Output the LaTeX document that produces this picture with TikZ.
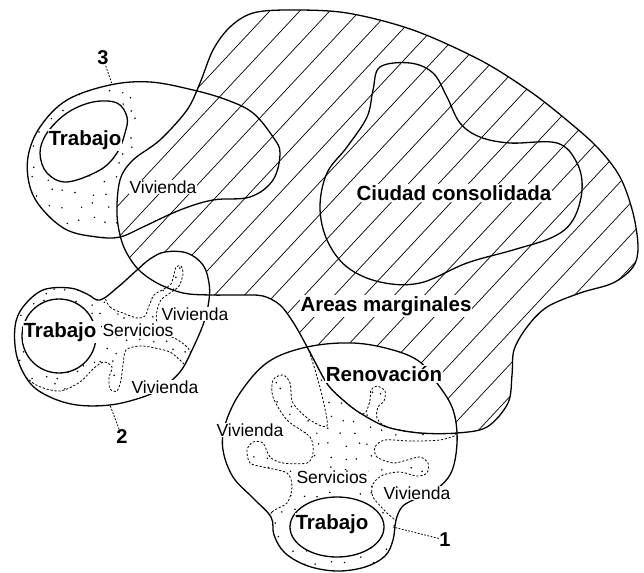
\documentclass[tikz,border=0pt]{standalone}
\usepackage{fontspec}
\setmainfont{Liberation Sans}
\begin{document}
\begin{tikzpicture}[x=1pt,y=-1pt,
  outl/.style={line width=1.3pt, line join=round},
  dsh/.style={line width=0.8pt, dash pattern=on 2.2pt off 1.8pt},
  bigtxt/.style={font=\fontsize{20.5}{22}\selectfont\bfseries, fill=white, inner sep=1pt},
  smtxt/.style={font=\fontsize{17.5}{19}\selectfont, fill=white, inner sep=0.8pt},
  numtxt/.style={font=\fontsize{20}{22}\selectfont\bfseries, inner sep=0.5pt},
  lead/.style={line width=0.8pt, dash pattern=on 1.8pt off 1.5pt},
  hatchln/.style={line width=0.7pt}]

\useasboundingbox (0,0) rectangle (644,572);

\def\Hshape{plot[smooth cycle, tension=0.55] coordinates {(290,10) (347,13) (413,30) (480,60) (528,90) (563,117) (597,147) (620,177) (633,213) (638,247) (633,267) (613,283) (580,293) (547,307) (527,327) (514,350) (512,375) (508,403) (487,427) (457,433) (420,433) (387,427) (360,413) (343,400) (328,385) (315,362) (305,343) (293,322) (280,305) (263,296) (240,295) (210,295) (183,293) (157,283) (137,268) (123,245) (117,215) (120,180) (133,160) (160,140) (187,110) (200,83) (213,50) (230,27) (253,13)}}
\def\Cthree{plot[smooth cycle, tension=0.6] coordinates {(110,85) (67,100) (40,127) (28,157) (30,187) (43,210) (67,230) (97,237) (120,237) (143,227) (180,210) (213,200) (250,197) (273,180) (280,153) (273,137) (253,113) (227,100) (193,90) (150,82)}}
\def\Ctwo{plot[smooth cycle, tension=0.6] coordinates {(137,270) (150,259) (165,252) (187,253) (203,265) (209,283) (209,300) (204,322) (193,348) (180,372) (160,389) (140,398) (110,405) (77,405) (50,397) (30,383) (17,357) (15,327) (23,307) (43,290) (70,288) (87,294) (100,300) (118,287)}}
\def\Cone{plot[smooth cycle, tension=0.6] coordinates {(307,347) (353,343) (393,350) (420,362) (437,383) (452,407) (457,433) (455,460) (448,478) (432,492) (413,500) (402,507) (396,520) (393,540) (385,556) (365,567) (337,571) (308,566) (285,553) (274,535) (271,517) (253,498) (233,477) (223,450) (225,425) (240,393) (268,362)}}
\def\Ciudad{plot[smooth cycle, tension=0.6] coordinates {(380,67) (410,63) (433,73) (447,97) (460,123) (480,137) (510,143) (557,143) (577,163) (582,190) (573,220) (553,237) (513,250) (467,263) (420,283) (380,282) (347,267) (327,240) (320,207) (327,173) (347,147) (367,117) (373,90)}}
\def\Tthree{plot[smooth cycle, tension=0.6] coordinates {(117,103) (127,117) (125,133) (117,153) (100,170) (67,182) (47,173) (40,153) (47,133) (67,113) (93,102)}}
\def\Rtwo{plot[smooth cycle, tension=0.5] coordinates {(100,290) (110,307) (123,313) (137,318) (145,316) (149,306) (154,295) (164,289) (171,284) (174,274) (176,267) (181,266) (183,274) (179,286) (170,293) (161,300) (157,311) (157,322) (167,334) (178,340) (188,348) (192,358) (187,366) (180,360) (170,352) (155,348) (140,346) (126,350) (123,365) (121,380) (117,391) (110,389) (109,378) (112,367) (104,362) (94,368) (80,382) (60,391) (38,386) (22,374) (5,360) (3,320) (20,290) (60,278) (85,285)}}
\def\Rone{plot[smooth cycle, tension=0.5] coordinates {(262,530) (272,512) (287,503) (292,487) (287,473) (263,467) (250,463) (247,450) (253,442) (263,443) (270,457) (283,463) (307,463) (313,453) (310,437) (287,420) (273,397) (273,380) (283,375) (290,383) (293,403) (310,420) (327,426) (323,400) (318,380) (312,360) (309,350) (315,362) (328,385) (343,400) (360,413) (366,412) (370,400) (371,390) (377,386) (385,391) (384,401) (378,407) (377,418) (387,427) (420,433) (456,434) (440,440) (410,441) (385,440) (375,447) (377,457) (393,463) (407,460) (420,457) (428,463) (427,473) (417,476) (400,472) (383,475) (373,484) (373,497) (387,513) (397,522) (410,540) (395,575) (337,582) (280,570) (262,550)}}

% hatching of the city
\begin{scope}
  \clip \Hshape;
  \foreach \c in {-700,-670,...,760} \draw[hatchln] (\c,600) -- ++(560,-600);
\end{scope}

% white areas of the new units
\fill[white] \Ctwo;
\fill[white] \Cone;

\pgfmathsetseed{7}
% dotted area of unit 3
\begin{scope}
  \clip \Cthree;
  \clip (0,0) -- (228,0) -- (213,50) -- (200,83) -- (187,110) -- (160,140) -- (133,160) -- (120,177) -- (117,200) -- (119,237) -- (122,260) -- (0,260) -- cycle;
  \foreach \x in {22,36,...,134} \foreach \y in {80,94,...,245} \fill ({\x+4*rand},{\y+4*rand}) circle[radius=0.85];
\end{scope}

% dotted area of unit 2
\begin{scope}
  \clip \Ctwo;
  \begin{scope}
    \clip \Rtwo;
    \foreach \x in {8,20,...,200} \foreach \y in {255,267,...,410} \fill ({\x+4*rand},{\y+4*rand}) circle[radius=0.85];
  \end{scope}
  \draw[dsh] \Rtwo;
\end{scope}

% dotted area of unit 1
\begin{scope}
  \clip \Cone;
  \begin{scope}
    \clip \Rone;
    \foreach \x in {240,253,...,462} \foreach \y in {340,353,...,580} \fill ({\x+4*rand},{\y+4*rand}) circle[radius=0.85];
  \end{scope}
  \draw[dsh] \Rone;
\end{scope}

% work areas
\filldraw[outl, fill=white] \Tthree;
\filldraw[outl, fill=white] (59,336) circle[radius=37];
\filldraw[outl, fill=white] (337,527) ellipse[x radius=47, y radius=30];

% outlines
\draw[outl] \Hshape;
\draw[outl] \Cthree;
\draw[outl] \Ctwo;
\draw[outl] \Cone;
\draw[outl] \Ciudad;

% labels
\node[bigtxt] (ciudad) at (454,193) {Ciudad consolidada};
\node[bigtxt] (areas) at (386,306) {Areas marginales};
\node[bigtxt] (renov) at (384,374) {Renovación};
\node[bigtxt] (trab3) at (85,140) {Trabajo};
\node[bigtxt] (trab2) at (60,332) {Trabajo};
\node[bigtxt] (trab1) at (332,524) {Trabajo};
\node[smtxt] (viv3) at (163,187) {Vivienda};
\node[smtxt] (viv2a) at (195,314) {Vivienda};
\node[smtxt] (viv2b) at (165,387) {Vivienda};
\node[smtxt] (viv1a) at (250,430) {Vivienda};
\node[smtxt] (viv1b) at (417,493) {Vivienda};
\node[smtxt] (serv2) at (138,330) {Servicios};
\node[smtxt] (serv1) at (332,477) {Servicios};

% numbers and leaders
\node[numtxt] (n3) at (103,58) {3};
\node[numtxt] (n2) at (122,437) {2};
\node[numtxt] (n1) at (445,540) {1};
\coordinate (c3) at (112,84);
\coordinate (c2) at (110,405);
\coordinate (c1) at (393,527);
\draw[lead] (n3) -- (c3);
\draw[lead] (n2) -- (c2);
\draw[lead] (n1) -- (c1);
\end{tikzpicture}
\end{document}
